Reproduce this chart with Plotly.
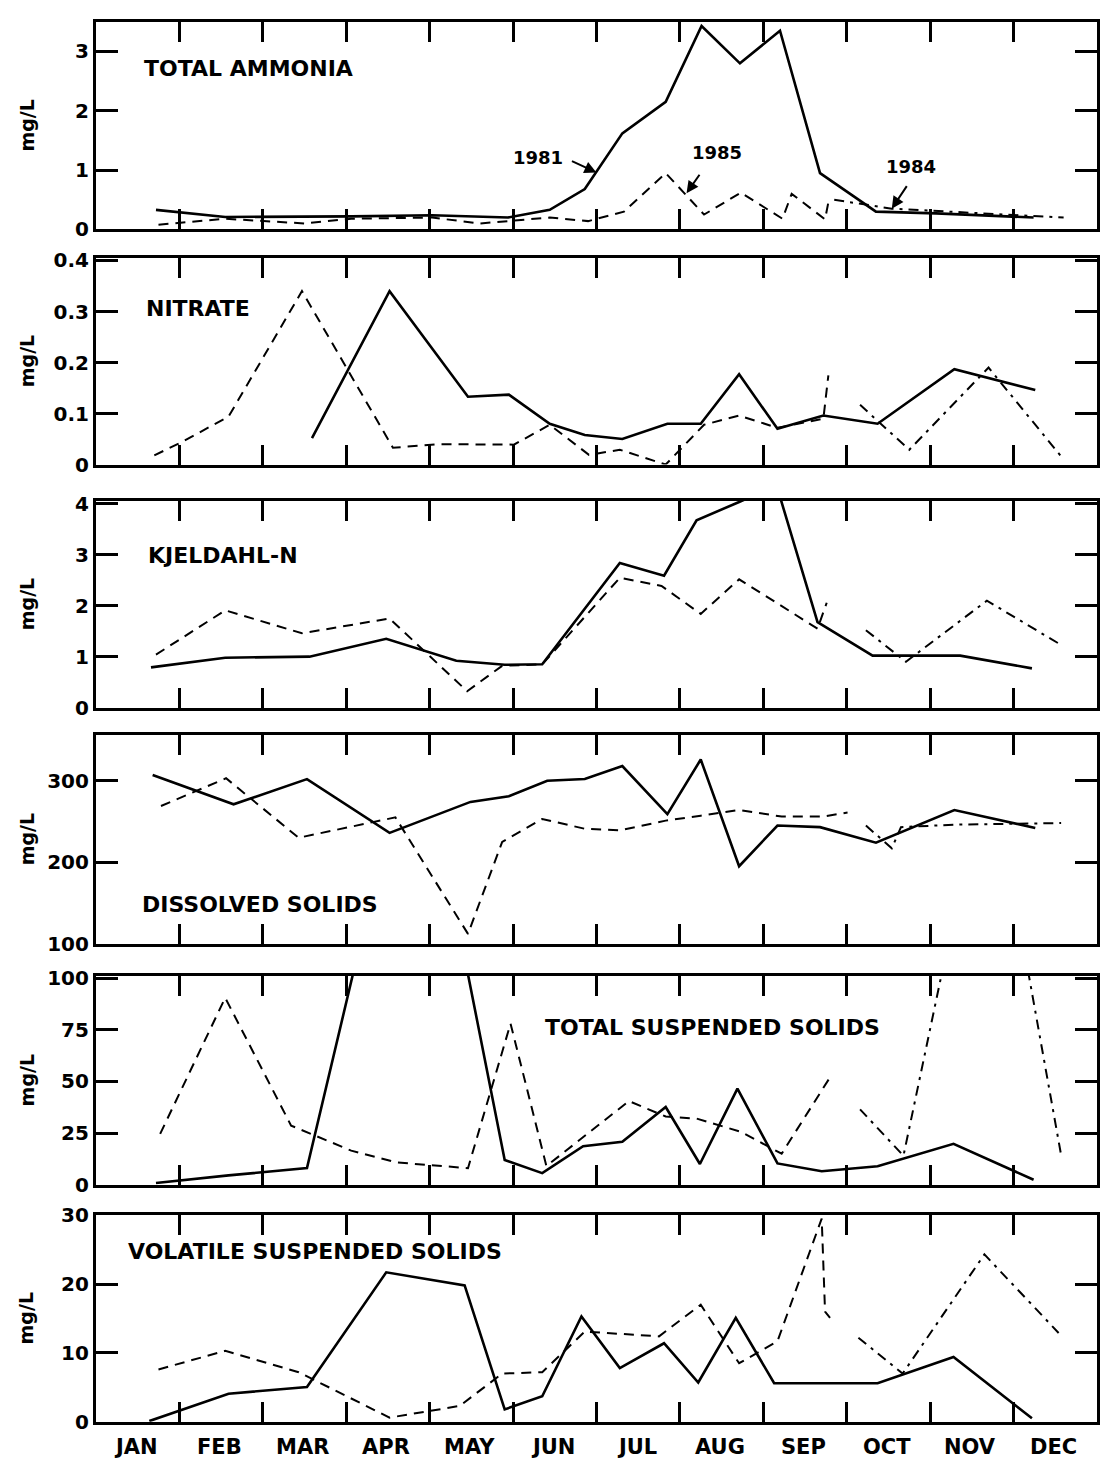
import plotly.graph_objects as go

# ---- month axis -------------------------------------------------------------
MONTHS = ["JAN", "FEB", "MAR", "APR", "MAY", "JUN",
          "JUL", "AUG", "SEP", "OCT", "NOV", "DEC"]
MONTH_BOUNDS = list(range(1, 12))          # first day of FEB ... DEC
LABEL_POS = [i + 0.48 for i in range(12)]  # month-label positions

# x values are fractional months since 1 January

# ---- TOTAL AMMONIA (mg/L) ---------------------------------------------------
nh3_1981_x = [0.72, 1.55, 3.06, 4.03, 4.94, 5.44, 5.86, 6.31, 6.83, 7.26, 7.72, 8.20, 8.68, 9.35, 10.07, 11.24]
nh3_1981_y = [0.33, 0.21, 0.22, 0.24, 0.20, 0.33, 0.68, 1.62, 2.15, 3.43, 2.80, 3.35, 0.95, 0.30, 0.27, 0.20]
nh3_1985_x = [0.75, 1.55, 2.50, 3.06, 4.03, 4.60, 5.44, 5.90, 6.33, 6.83, 7.29, 7.73, 8.23, 8.34, 8.74, 8.79]
nh3_1985_y = [0.08, 0.18, 0.10, 0.18, 0.20, 0.10, 0.20, 0.14, 0.30, 0.95, 0.25, 0.62, 0.18, 0.60, 0.17, 0.53]
nh3_1984_x = [8.85, 9.54, 10.50, 11.60]
nh3_1984_y = [0.50, 0.35, 0.28, 0.20]

# ---- NITRATE (mg/L) ---------------------------------------------------------
no3_1981_x = [2.59, 3.52, 4.46, 4.95, 5.44, 5.86, 6.31, 6.85, 7.25, 7.71, 8.17, 8.72, 9.37, 10.29, 11.26]
no3_1981_y = [0.052, 0.34, 0.133, 0.137, 0.08, 0.058, 0.05, 0.08, 0.08, 0.177, 0.07, 0.096, 0.08, 0.187, 0.146]
no3_1985_x = [0.70, 1.04, 1.59, 2.47, 3.56, 4.13, 5.01, 5.44, 5.91, 6.28, 6.83, 7.29, 7.71, 8.17, 8.72, 8.78]
no3_1985_y = [0.018, 0.045, 0.094, 0.34, 0.033, 0.04, 0.039, 0.078, 0.019, 0.029, 0.0, 0.078, 0.096, 0.072, 0.09, 0.175]
no3_1984_x = [9.16, 9.75, 10.70, 11.60]
no3_1984_y = [0.117, 0.029, 0.19, 0.01]

# ---- KJELDAHL-N (mg/L) ------------------------------------------------------
tkn_1981_x = [0.66, 1.55, 2.56, 3.48, 4.32, 4.90, 5.35, 6.28, 6.81, 7.20, 7.71, 8.16, 8.65, 9.31, 10.36, 11.22]
tkn_1981_y = [0.79, 0.98, 1.00, 1.35, 0.92, 0.84, 0.85, 2.84, 2.59, 3.68, 4.04, 4.36, 1.68, 1.02, 1.02, 0.77]
tkn_1985_x = [0.72, 1.55, 2.47, 3.52, 4.45, 4.87, 5.35, 6.28, 6.78, 7.25, 7.71, 8.26, 8.65, 8.76]
tkn_1985_y = [1.04, 1.91, 1.46, 1.75, 0.32, 0.82, 0.85, 2.55, 2.39, 1.84, 2.52, 1.95, 1.55, 2.06]
tkn_1984_x = [9.23, 9.71, 10.68, 11.56]
tkn_1984_y = [1.52, 0.90, 2.10, 1.24]

# ---- DISSOLVED SOLIDS (mg/L) ------------------------------------------------
tds_1981_x = [0.68, 1.65, 2.53, 3.52, 4.49, 4.95, 5.41, 5.86, 6.31, 6.85, 7.25, 7.71, 8.17, 8.68, 9.35, 10.29, 11.26]
tds_1981_y = [307, 271, 302, 236, 274, 281, 300, 302, 318, 259, 326, 195, 245, 243, 224, 264, 242]
tds_1985_x = [0.78, 1.56, 2.43, 3.59, 4.46, 4.87, 5.35, 5.86, 6.28, 6.83, 7.25, 7.71, 8.22, 8.72, 9.01]
tds_1985_y = [269, 303, 230, 255, 112, 225, 253, 241, 239, 251, 257, 264, 256, 256, 261]
tds_1984_x = [9.23, 9.54, 9.65, 10.28, 11.57]
tds_1984_y = [245, 217, 243, 246, 248]

# ---- TOTAL SUSPENDED SOLIDS (mg/L) ------------------------------------------
tss_1981_x = [0.72, 1.59, 2.53, 3.48, 4.42, 4.90, 5.35, 5.84, 6.31, 6.83, 7.24, 7.69, 8.17, 8.70, 9.37, 10.28, 11.24]
tss_1981_y = [0.8, 4.5, 8.0, 170, 110, 12.0, 5.6, 18.6, 20.8, 37.6, 10.0, 46.5, 10.3, 6.5, 8.9, 19.8, 2.4]
tss_1985_x = [0.77, 1.55, 2.34, 3.06, 3.60, 4.46, 4.97, 5.40, 6.39, 6.83, 7.20, 7.73, 8.22, 8.80]
tss_1985_y = [24.6, 90.5, 28.6, 16.5, 10.8, 8.0, 78.0, 9.0, 40.5, 33.0, 32.0, 25.6, 15.0, 52.0]
tss_1984_x = [9.16, 9.68, 10.70, 11.57]
tss_1984_y = [36.5, 14.0, 210, 14.3]

# ---- VOLATILE SUSPENDED SOLIDS (mg/L) ---------------------------------------
vss_1981_x = [0.64, 1.59, 2.53, 3.48, 4.42, 4.90, 5.35, 5.82, 6.28, 6.81, 7.22, 7.67, 8.13, 9.37, 10.28, 11.22]
vss_1981_y = [0.1, 4.07, 5.05, 21.7, 19.8, 1.8, 3.7, 15.3, 7.8, 11.4, 5.7, 15.1, 5.6, 5.6, 9.4, 0.5]
vss_1985_x = [0.75, 1.55, 2.43, 3.52, 4.36, 4.87, 5.35, 5.86, 6.75, 7.25, 7.71, 8.17, 8.70, 8.74, 8.80]
vss_1985_y = [7.6, 10.3, 7.2, 0.6, 2.3, 7.0, 7.2, 13.1, 12.4, 17.0, 8.5, 11.7, 29.5, 16.0, 15.1]
vss_1984_x = [9.14, 9.67, 10.65, 11.54]
vss_1984_y = [12.2, 7.0, 24.3, 12.9]

# ---- panel definitions ------------------------------------------------------
W, H = 1100, 1481
PLOT_LEFT, PLOT_RIGHT = 96, 1098

panels = [
    dict(title="TOTAL AMMONIA", top=10, bottom=221, yrange=[0, 3.5],
         tickvals=[0, 1, 2, 3], ticktext=["0", "1", "2", "3"],
         title_xy=(142, 57),
         series=[(nh3_1981_x, nh3_1981_y), (nh3_1985_x, nh3_1985_y), (nh3_1984_x, nh3_1984_y)]),
    dict(title="NITRATE", top=250, bottom=460, yrange=[0, 0.405],
         tickvals=[0, 0.1, 0.2, 0.3, 0.4], ticktext=["0", "0.1", "0.2", "0.3", "0.4"],
         title_xy=(144, 301),
         series=[(no3_1981_x, no3_1981_y), (no3_1985_x, no3_1985_y), (no3_1984_x, no3_1984_y)]),
    dict(title="KJELDAHL-N", top=497, bottom=707, yrange=[0, 4.06],
         tickvals=[0, 1, 2, 3, 4], ticktext=["0", "1", "2", "3", "4"],
         title_xy=(146, 552),
         series=[(tkn_1981_x, tkn_1981_y), (tkn_1985_x, tkn_1985_y), (tkn_1984_x, tkn_1984_y)]),
    dict(title="DISSOLVED SOLIDS", top=735, bottom=947, yrange=[100, 356],
         tickvals=[100, 200, 300], ticktext=["100", "200", "300"],
         title_xy=(140, 907),
         series=[(tds_1981_x, tds_1981_y), (tds_1985_x, tds_1985_y), (tds_1984_x, tds_1984_y)]),
    dict(title="TOTAL SUSPENDED SOLIDS", top=980, bottom=1192, yrange=[0, 101],
         tickvals=[0, 25, 50, 75, 100], ticktext=["0", "25", "50", "75", "100"],
         title_xy=(543, 1032),
         series=[(tss_1981_x, tss_1981_y), (tss_1985_x, tss_1985_y), (tss_1984_x, tss_1984_y)]),
    dict(title="VOLATILE SUSPENDED SOLIDS", top=1223, bottom=1433, yrange=[0, 30],
         tickvals=[0, 10, 20, 30], ticktext=["0", "10", "20", "30"],
         title_xy=(126, 1260),
         series=[(vss_1981_x, vss_1981_y), (vss_1985_x, vss_1985_y), (vss_1984_x, vss_1984_y)]),
]

FONT = "DejaVu Sans"
styles = [
    dict(color="black", width=2.6),                                   # 1981
    dict(color="black", width=2.0, dash="10px,7px"),                  # 1985
    dict(color="black", width=2.0, dash="10px,6px,3px,6px"),          # 1984
]


def py2paper(py):
    return 1 - py / H


fig = go.Figure()
layout = dict(
    width=W, height=H,
    margin=dict(l=0, r=0, t=0, b=0),
    paper_bgcolor="white", plot_bgcolor="white",
    showlegend=False,
    font=dict(family=FONT, color="black"),
)
annotations = []

for i, p in enumerate(panels, start=1):
    xa = "x" if i == 1 else f"x{i}"
    ya = "y" if i == 1 else f"y{i}"
    for (xs, ys), st in zip(p["series"], styles):
        fig.add_trace(go.Scatter(x=xs, y=ys, mode="lines", line=st,
                                 xaxis=xa, yaxis=ya, hoverinfo="skip"))
    dom_y = [py2paper(p["bottom"]), py2paper(p["top"])]
    layout[f"xaxis{'' if i == 1 else i}"] = dict(
        domain=[PLOT_LEFT / W, PLOT_RIGHT / W], range=[0, 12], anchor=ya,
        tickmode="array", tickvals=MONTH_BOUNDS, showticklabels=False,
        ticks="inside", ticklen=20, tickwidth=2.5, tickcolor="black",
        showline=True, linewidth=3, linecolor="black", mirror="ticks",
        showgrid=False, zeroline=False, fixedrange=True,
    )
    layout[f"yaxis{'' if i == 1 else i}"] = dict(
        domain=dom_y, range=p["yrange"], anchor=xa,
        tickmode="array", tickvals=p["tickvals"], ticktext=p["ticktext"],
        ticks="inside", ticklen=22, tickwidth=2.5, tickcolor="black",
        tickfont=dict(family=FONT, size=20, weight="bold", color="black"),
        showline=True, linewidth=3, linecolor="black", mirror="ticks",
        showgrid=False, zeroline=False, fixedrange=True,
    )
    # panel title
    tx, ty = p["title_xy"]
    annotations.append(dict(
        text=p["title"], xref="paper", yref="paper",
        x=tx / W, y=py2paper(ty), xanchor="left", yanchor="middle",
        showarrow=False, font=dict(family=FONT, size=22, weight="bold"),
    ))
    # unit label
    annotations.append(dict(
        text="mg/L", xref="paper", yref="paper", textangle=-90,
        x=27 / W, y=py2paper((p["top"] + p["bottom"]) / 2),
        xanchor="center", yanchor="middle", showarrow=False,
        font=dict(family=FONT, size=19, weight="bold"),
    ))

# month names under the bottom panel
for pos, name in zip(LABEL_POS, MONTHS):
    annotations.append(dict(
        text=name, xref="x6", yref="paper", x=pos, y=py2paper(1459),
        xanchor="center", yanchor="middle", showarrow=False,
        font=dict(family=FONT, size=21, weight="bold"),
    ))

# year call-outs in the ammonia panel
year_labels = [("1981", 538, 148), ("1985", 718, 143), ("1984", 912, 157)]
for txt, px, py in year_labels:
    annotations.append(dict(
        text=txt, xref="paper", yref="paper", x=px / W, y=py2paper(py),
        xanchor="center", yanchor="middle", showarrow=False,
        font=dict(family=FONT, size=18, weight="bold"),
    ))
arrows = [(6.0, 0.96, -26, -12), (7.08, 0.61, 14, -20), (9.54, 0.35, 16, -24)]
for hx, hy, ax, ay in arrows:
    annotations.append(dict(
        text="", xref="x", yref="y", x=hx, y=hy, ax=ax, ay=ay,
        showarrow=True, arrowhead=2, arrowsize=1.2, arrowwidth=2,
        arrowcolor="black", standoff=0,
    ))

layout["annotations"] = annotations
fig.update_layout(**layout)
fig.write_html("out.html")
